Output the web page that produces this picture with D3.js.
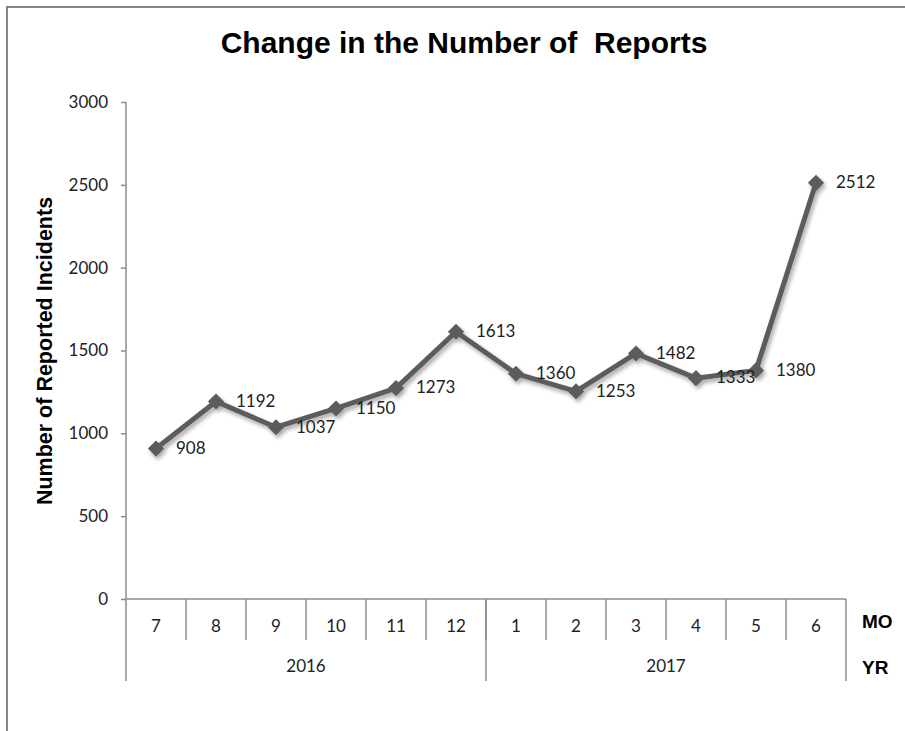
<!DOCTYPE html>
<html>
<head>
<meta charset="utf-8">
<script src="https://cdn.jsdelivr.net/npm/d3@7"></script>
<style>
  body { margin: 0; background: #fff; }
  svg { display: block; }
</style>
</head>
<body>
<div id="chart"></div>
<script>
// Chart data
const months = ['7', '8', '9', '10', '11', '12', '1', '2', '3', '4', '5', '6'];
const years = ['2016', '2016', '2016', '2016', '2016', '2016', '2017', '2017', '2017', '2017', '2017', '2017'];
const reports = [908, 1192, 1037, 1150, 1273, 1613, 1360, 1253, 1482, 1333, 1380, 2512];
const yTicks = [0, 500, 1000, 1500, 2000, 2500, 3000];

const width = 905, height = 731;
const plot = { left: 126, right: 846, top: 102, bottom: 599 };

const svg = d3.select('#chart')
    .append('svg')
    .attr('width', width)
    .attr('height', height);

// Drop shadow for the series
const defs = svg.append('defs');
defs.append('filter')
    .attr('id', 'shadow')
    .attr('x', '-20%').attr('y', '-20%')
    .attr('width', '140%').attr('height', '140%')
    .append('feDropShadow')
    .attr('dx', 2).attr('dy', 3)
    .attr('stdDeviation', 2)
    .attr('flood-color', '#000')
    .attr('flood-opacity', 0.35);

// Outer frame (runs off the right and bottom edge)
svg.append('rect')
    .attr('x', 7).attr('y', 7)
    .attr('width', width + 10).attr('height', height + 10)
    .attr('fill', 'none')
    .attr('stroke', '#858585')
    .attr('stroke-width', 2);

// Title
svg.append('text')
    .attr('x', 464).attr('y', 53)
    .attr('text-anchor', 'middle')
    .style('font-family', 'Liberation Sans, Arial, sans-serif')
    .style('font-weight', 'bold')
    .style('font-size', '30px')
    .style('white-space', 'pre')
    .text('Change in the Number of  Reports');

// Scales
const x = d3.scaleBand()
    .domain(months.map((m, i) => i))
    .range([plot.left, plot.right]);

const y = d3.scaleLinear()
    .domain([0, 3000])
    .range([plot.bottom, plot.top]);

const axisColor = '#8c8c8c';
const labelFont = 'Lato, sans-serif';

// Y axis
const yAxis = svg.append('g')
    .attr('transform', `translate(${plot.left},0)`)
    .call(d3.axisLeft(y).tickValues(yTicks).tickSize(5).tickPadding(13).tickFormat(d3.format('d')));
yAxis.select('.domain').remove();
yAxis.selectAll('.tick line').attr('stroke', axisColor).attr('stroke-width', 1.5);
yAxis.selectAll('.tick text')
    .attr('fill', '#222')
    .style('font-family', labelFont)
    .style('font-size', '17px');

// Y axis line extended down through the category rows
svg.append('line')
    .attr('x1', plot.left).attr('x2', plot.left)
    .attr('y1', plot.top).attr('y2', 681)
    .attr('stroke', axisColor).attr('stroke-width', 1.5);

// Horizontal axis line
svg.append('line')
    .attr('x1', plot.left).attr('x2', plot.right)
    .attr('y1', plot.bottom).attr('y2', plot.bottom)
    .attr('stroke', axisColor).attr('stroke-width', 1.5);

// Month separators
svg.selectAll('.mo-sep')
    .data(months.slice(0, -1))
    .enter()
    .append('line')
    .attr('class', 'mo-sep')
    .attr('x1', (d, i) => x(i) + x.bandwidth())
    .attr('x2', (d, i) => x(i) + x.bandwidth())
    .attr('y1', plot.bottom).attr('y2', 640)
    .attr('stroke', axisColor).attr('stroke-width', 1.5);

// Year groups
const yearGroups = d3.groups(months.map((m, i) => ({ i, year: years[i] })), d => d.year);
yearGroups.forEach(([year, items]) => {
    const x0 = x(items[0].i);
    const x1 = x(items[items.length - 1].i) + x.bandwidth();
    svg.append('line')
        .attr('x1', x1).attr('x2', x1)
        .attr('y1', plot.bottom).attr('y2', 681)
        .attr('stroke', axisColor).attr('stroke-width', 1.5);
    svg.append('text')
        .attr('x', (x0 + x1) / 2).attr('y', 668)
        .attr('text-anchor', 'middle')
        .attr('dominant-baseline', 'middle')
        .attr('fill', '#222')
        .style('font-family', labelFont)
        .style('font-size', '17px')
        .text(year);
});

// Month labels
svg.selectAll('.mo-label')
    .data(months)
    .enter()
    .append('text')
    .attr('class', 'mo-label')
    .attr('x', (d, i) => x(i) + x.bandwidth() / 2)
    .attr('y', 628)
    .attr('text-anchor', 'middle')
    .attr('dominant-baseline', 'middle')
    .attr('fill', '#222')
    .style('font-family', labelFont)
    .style('font-size', '17px')
    .text(d => d);

// Row headers
[['MO', 623], ['YR', 669]].forEach(([t, ty]) => {
    svg.append('text')
        .attr('x', 862).attr('y', ty)
        .attr('dominant-baseline', 'middle')
        .style('font-family', 'Liberation Sans, Arial, sans-serif')
        .style('font-weight', 'bold')
        .style('font-size', '19px')
        .text(t);
});

// Y axis title
svg.append('text')
    .attr('transform', 'translate(46,351) rotate(-90)')
    .attr('text-anchor', 'middle')
    .attr('dominant-baseline', 'middle')
    .style('font-family', 'Liberation Sans, Arial, sans-serif')
    .style('font-weight', 'bold')
    .style('font-size', '21.5px')
    .text('Number of Reported Incidents');

// Series
const cx = i => x(i) + x.bandwidth() / 2;
const line = d3.line()
    .x((d, i) => cx(i))
    .y(d => y(d));

const series = svg.append('g').attr('filter', 'url(#shadow)');

series.append('path')
    .attr('d', line(reports))
    .attr('fill', 'none')
    .attr('stroke', '#5c5c5c')
    .attr('stroke-width', 5)
    .attr('stroke-linejoin', 'round');

series.selectAll('.marker')
    .data(reports)
    .enter()
    .append('path')
    .attr('class', 'marker')
    .attr('d', d3.symbol().type(d3.symbolSquare).size(130))
    .attr('transform', (d, i) => `translate(${cx(i)},${y(d)}) rotate(45)`)
    .attr('fill', '#5c5c5c');

// Data labels
svg.selectAll('.value-label')
    .data(reports)
    .enter()
    .append('text')
    .attr('class', 'value-label')
    .attr('x', (d, i) => cx(i) + 20)
    .attr('y', d => y(d) + 1)
    .attr('dominant-baseline', 'middle')
    .attr('fill', '#222')
    .style('font-family', labelFont)
    .style('font-size', '17px')
    .text(d => d);
</script>
</body>
</html>
